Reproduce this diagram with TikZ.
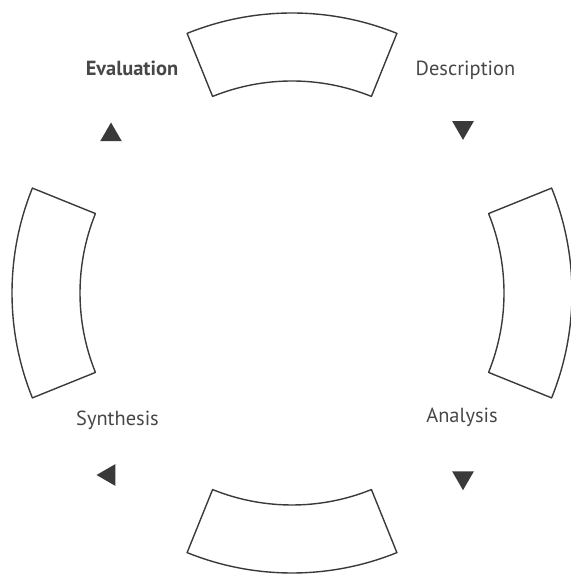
\documentclass[tikz,border=0pt]{standalone}
\usepackage{fontspec}
\setmainfont{PT Sans}
\usetikzlibrary{shapes.geometric,calc}
\definecolor{ink}{HTML}{3A3A3A}
\definecolor{txt}{HTML}{474747}
\begin{document}
\begin{tikzpicture}[x=1bp,y=1bp,
  sector/.style={draw=ink,line width=1.4bp,line join=round},
  lbl/.style={text=txt,font=\fontsize{20.5}{24}\selectfont,anchor=base,inner sep=0pt},
  tri/.style={regular polygon,regular polygon sides=3,fill=ink,draw=none,minimum size=25bp,inner sep=0pt}]
\useasboundingbox (0,0) rectangle (571,576);
\coordinate (C) at (292,283);
\foreach \m/\n in {90/top,0/right,270/bottom,180/left}{
  \draw[sector] ($(C)+(\m-22:280)$) coordinate (\n-a)
    arc[start angle=\m-22,end angle=\m+22,radius=280] coordinate (\n-b)
    -- ($(C)+(\m+22:212)$) coordinate (\n-c)
    arc[start angle=\m+22,end angle=\m-22,radius=212] coordinate (\n-d)
    -- cycle;
}
\node[lbl,font=\fontsize{20.5}{24}\selectfont\bfseries] (eval) at (132,500) {Evaluation};
\node[lbl] (desc) at (465.5,500) {Description};
\node[lbl] (synt) at (117.5,150) {Synthesis};
\node[lbl] (anal) at (462,153) {Analysis};
\node[tri] (t-eval) at (111,441) {};
\node[tri,shape border rotate=180] (t-desc) at (463,448.6) {};
\node[tri,shape border rotate=90] (t-synt) at (109,101) {};
\node[tri,shape border rotate=180] (t-anal) at (463,98.3) {};
\end{tikzpicture}
\end{document}
